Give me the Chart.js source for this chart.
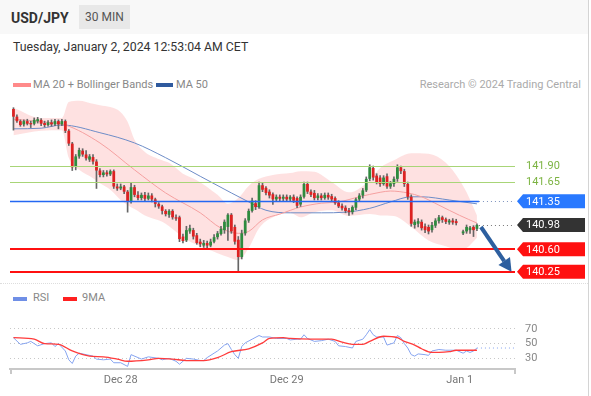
<!DOCTYPE html>
<html>
<head>
<meta charset="utf-8">
<script src="https://cdn.jsdelivr.net/npm/chart.js@4.4.1/dist/chart.umd.min.js"></script>
<style>
  html, body { margin: 0; padding: 0; background: #fff; }
  body { width: 591px; height: 396px; position: relative; overflow: hidden; font-family: Roboto, "Liberation Sans", Arial, sans-serif; }
  .abs { position: absolute; white-space: nowrap; }
  #head { left: 0; top: 0; width: 588px; height: 34px; background: #f8f8f8; }
  #pair { left: 11px; top: 8px; font-size: 14px; font-weight: bold; color: #333; line-height: 20px; }
  #tf { left: 79px; top: 5px; width: 51px; height: 24px; line-height: 24px; text-align: center; background: #e8e8e8; color: #555; font-size: 12px; }
  #date { left: 13px; top: 39px; font-size: 12.3px; color: #333; line-height: 16px; }
  .sw { position: absolute; height: 4px; }
  .lg { font-size: 11px; color: #888; line-height: 14px; }
  #sep { left: 0; top: 283px; width: 588px; border-top: 1px dotted #ddd; }
  #edge { left: 588px; top: 0; width: 1px; height: 396px; background: #d4d4d4; }
  canvas { position: absolute; left: 0; }
</style>
</head>
<body>
<div id="head" class="abs"></div>
<div id="pair" class="abs">USD/JPY</div>
<div id="tf" class="abs">30 MIN</div>
<div id="date" class="abs">Tuesday, January 2, 2024 12:53:04 AM CET</div>

<div class="sw" style="left:13px;top:83px;width:18px;background:#ff8a8a"></div>
<div class="abs lg" style="left:33px;top:78px">MA 20 + Bollinger Bands</div>
<div class="sw" style="left:156px;top:83px;width:17px;background:#2f5a9e"></div>
<div class="abs lg" style="left:176px;top:78px">MA 50</div>
<div class="abs lg" style="right:10px;top:78px;color:#aaa">Research © 2024 Trading Central</div>

<div id="sep" class="abs"></div>
<div class="sw" style="left:13px;top:297px;width:14px;background:#6f8fe6"></div>
<div class="abs lg" style="left:33px;top:291px">RSI</div>
<div class="sw" style="left:63px;top:297px;width:14px;background:#ff2020"></div>
<div class="abs lg" style="left:82px;top:291px">9MA</div>
<div id="edge" class="abs"></div>

<canvas id="main" width="591" height="195" style="top:95px"></canvas>
<canvas id="rsi" width="591" height="96" style="top:300px"></canvas>

<script>
// 30-min candles, index 0 = first candle shown (129 = missing bar)
const opens = [
  142.79,142.67,142.60,142.55,142.60,142.57,142.56,142.60,142.62,142.57,
  142.54,142.58,142.55,142.60,142.55,142.60,142.45,142.25,141.90,142.05,
  142.14,142.08,142.00,142.04,141.97,141.83,141.76,141.80,141.77,141.82,
  141.58,141.55,141.58,141.50,141.35,141.57,141.45,141.40,141.45,141.39,
  141.44,141.38,141.31,141.27,141.20,141.14,141.20,141.10,141.10,140.80,
  140.74,140.88,140.90,140.82,140.72,140.66,140.70,140.66,140.72,140.79,
  140.84,140.90,140.95,141.14,140.95,140.75,140.48,140.85,141.05,141.20,
  141.32,141.26,141.60,141.56,141.50,141.46,141.38,141.42,141.39,141.42,
  141.38,141.42,141.40,141.30,141.42,141.62,141.50,141.48,141.40,141.44,
  141.40,141.45,141.43,141.40,141.33,141.28,141.25,141.21,141.18,141.25,
  141.38,141.44,141.52,141.70,141.87,141.75,141.72,141.62,141.74,141.58,
  141.62,141.70,141.88,141.82,141.62,141.42,140.98,141.00,141.03,140.96,
  140.95,140.90,140.97,141.04,141.10,141.07,141.02,141.05,141.04,null,
  140.85,140.88,140.90,140.95,140.92
];
const highs = [
  142.81,142.70,142.62,142.62,142.63,142.60,142.65,142.66,142.64,142.60,
  142.61,142.62,142.63,142.62,142.63,142.62,142.47,142.27,142.08,142.18,
  142.17,142.14,142.08,142.08,142.00,141.86,141.83,141.83,141.84,141.84,
  141.62,141.62,141.60,141.52,141.63,141.60,141.50,141.48,141.49,141.48,
  141.47,141.40,141.33,141.29,141.22,141.22,141.22,141.14,141.12,140.84,
  140.96,140.98,140.93,140.85,140.76,140.74,140.73,140.76,140.83,140.88,
  140.96,141.06,141.16,141.16,140.98,140.80,140.90,141.08,141.23,141.40,
  141.36,141.65,141.64,141.58,141.53,141.48,141.45,141.45,141.45,141.45,
  141.44,141.45,141.42,141.45,141.65,141.65,141.53,141.52,141.47,141.47,
  141.48,141.48,141.46,141.42,141.36,141.31,141.28,141.24,141.28,141.40,
  141.47,141.55,141.73,141.92,141.90,141.78,141.75,141.75,141.78,141.66,
  141.73,141.92,141.90,141.85,141.65,141.45,141.06,141.08,141.06,141.00,
  140.98,141.02,141.08,141.13,141.12,141.09,141.07,141.08,141.07,null,
  140.90,140.98,140.96,140.97,141.00
];
const lows = [
  142.46,142.58,142.52,142.52,142.54,142.50,142.54,142.57,142.53,142.51,
  142.52,142.52,142.53,142.48,142.53,142.42,142.22,141.83,141.84,142.02,
  142.05,141.99,141.97,141.93,141.55,141.73,141.73,141.74,141.75,141.55,
  141.52,141.53,141.47,141.18,141.32,141.42,141.37,141.37,141.36,141.37,
  141.34,141.26,141.24,141.15,141.12,141.10,141.07,141.05,140.72,140.70,
  140.72,140.85,140.76,140.68,140.64,140.63,140.62,140.64,140.70,140.76,
  140.82,140.85,140.74,140.85,140.68,140.26,140.45,140.82,141.02,141.18,
  141.22,141.24,141.50,141.45,141.40,141.30,141.35,141.36,141.36,141.35,
  141.35,141.33,141.25,141.27,141.40,141.47,141.42,141.37,141.37,141.37,
  141.38,141.38,141.35,141.30,141.25,141.21,141.17,141.13,141.15,141.22,
  141.35,141.40,141.50,141.67,141.68,141.62,141.58,141.60,141.55,141.55,
  141.58,141.66,141.78,141.58,141.38,140.96,140.93,140.95,140.90,140.86,
  140.84,140.87,140.94,141.01,141.02,141.00,140.99,140.99,140.98,null,
  140.83,140.85,140.85,140.80,140.89
];
const closes = [
  142.67,142.60,142.54,142.60,142.56,142.55,142.62,142.63,142.56,142.54,
  142.58,142.55,142.60,142.55,142.60,142.45,142.25,141.88,142.05,142.15,
  142.08,142.02,142.05,141.97,141.83,141.76,141.80,141.77,141.82,141.58,
  141.55,141.58,141.50,141.35,141.57,141.45,141.40,141.45,141.39,141.44,
  141.38,141.31,141.27,141.20,141.15,141.20,141.10,141.08,140.76,140.73,
  140.90,140.93,140.80,140.70,140.68,140.70,140.66,140.72,140.79,140.85,
  140.92,141.03,141.14,140.88,140.72,140.48,140.85,141.05,141.20,141.36,
  141.26,141.60,141.53,141.48,141.44,141.38,141.42,141.39,141.42,141.38,
  141.42,141.36,141.28,141.42,141.62,141.50,141.45,141.40,141.44,141.40,
  141.45,141.41,141.38,141.32,141.27,141.24,141.20,141.18,141.26,141.38,
  141.44,141.52,141.70,141.88,141.72,141.65,141.62,141.72,141.58,141.63,
  141.70,141.88,141.82,141.62,141.42,141.00,141.03,141.04,140.93,140.90,
  140.88,140.98,141.05,141.10,141.06,141.03,141.05,141.02,141.01,null,
  140.88,140.95,140.94,140.90,140.98
];

// moving averages / bands, read at candle indices
const ma20Idx = [0, 8, 15, 25, 35, 44, 54, 60, 65, 68, 72, 77, 83, 89, 94, 100, 106, 109, 114, 118, 123, 129, 134];
const ma20Val = [142.63, 142.59, 142.54, 142.26, 141.84, 141.48, 141.17, 140.93, 140.85, 140.88, 141.06, 141.15, 141.26, 141.32, 141.34, 141.42, 141.49, 141.51, 141.48, 141.42, 141.29, 141.13, 141.01];
const ma50Idx = [0, 8, 14, 25, 35, 44, 54, 63, 68, 73, 80, 89, 96, 103, 109, 115, 118, 126, 134];
const ma50Val = [142.48, 142.49, 142.54, 142.42, 142.26, 142.03, 141.74, 141.48, 141.34, 141.21, 141.17, 141.17, 141.18, 141.24, 141.34, 141.42, 141.42, 141.37, 141.31];
const bandIdx = [0, 8, 14, 16, 19, 23, 25, 28, 31, 33, 35, 38, 43, 45, 49, 53, 59, 62, 65, 68, 71, 75, 80, 83, 87, 92, 97, 103, 106, 110, 115, 120, 125, 129, 131, 134];
const bandUpper = [142.81, 142.65, 142.65, 142.90, 142.92, 142.87, 142.85, 142.82, 142.74, 142.59, 142.31, 142.12, 141.99, 141.95, 141.78, 141.68, 141.45, 141.31, 141.40, 141.59, 141.70, 141.76, 141.79, 141.82, 141.81, 141.65, 141.49, 141.68, 141.87, 141.99, 142.10, 142.09, 141.95, 141.68, 141.49, 141.13];
const bandLower = [142.38, 142.45, 142.46, 142.03, 141.84, 141.71, 141.63, 141.53, 141.37, 141.29, 141.23, 141.13, 141.03, 140.96, 140.79, 140.67, 140.54, 140.48, 140.43, 140.62, 140.93, 141.10, 141.17, 141.10, 141.18, 141.21, 141.12, 141.15, 141.13, 141.12, 140.95, 140.74, 140.65, 140.59, 140.62, 140.78];

// key levels
const levelVals = [141.90, 141.65, 141.35, 140.98, 140.60, 140.25];
const levelKinds = ['res', 'res', 'pivot', 'last', 'sup', 'sup'];
const arrowTarget = 140.25;

// RSI panel
const rsiIdx = [0,2,4,5,7,9,11,12,13,15,16,17,18,19,21,23,24,26,28,29,31,33,34,36,37,39,42,43,45,47,48,50,52,54,55,56,58,59,61,62,63,64,65,66,67,69,71,72,74,76,79,80,82,83,84,85,87,89,91,93,94,96,98,99,101,102,103,104,105,107,108,110,111,112,113,114,115,116,117,119,120,121,123,125,127,128,130,131,132,133,134];
const rsiVal = [58,49,51,53,47,50,51,46,50,40,28,23,33,37,35,33,29,28,29,24,24,19,35,31,29,32,30,28,30,26,22,30,29,27,27,31,37,40,48,50,42,35,30,46,51,56,61,59,59,57,57,55,56,56,62,57,53,54,56,53,47,46,44,53,56,62,69,62,59,59,48,51,61,58,50,44,35,33,36,35,34,40,42,41,41,41,37,40,38,40,44];
const rsiMaIdx = [0,6,9,13,17,22,26,30,33,39,42,46,50,55,59,63,68,72,74,78,80,86,92,95,98,101,103,107,111,113,116,118,121,123,126,128,134];
const rsiMaVal = [58,56,50,49,40,33,32,29,26,28,30,29,27,27,31,39,43,51,57,58,57,56,56,52,49,49,53,60,58,53,48,43,38,38,39,41,41];
const rsiLevels = [30, 50, 70];

// date ticks (candle index of midnight)
const dateTickIdx = [31, 79, 129];
const dateTickLabels = ['Dec 28', 'Dec 29', 'Jan 1'];

const xMin = -1, xMax = 145;
const lastIdx = closes.length - 1;
const lastClose = closes[lastIdx];

Chart.defaults.font.family = 'Roboto, "Liberation Sans", Arial, sans-serif';

const pts = (idx, vals) => idx.map((x, k) => ({ x: x, y: vals[k] }));
const bodies = [], wicks = [];
opens.forEach((o, i) => {
  if (o === null) return;
  bodies.push({ x: i, y: [o, closes[i]], up: closes[i] >= o });
  wicks.push({ x: i, y: [lows[i], highs[i]] });
});

const levelPlugin = {
  id: 'levels',
  afterDatasetsDraw(chart) {
    const { ctx, chartArea: a, scales: { x, y } } = chart;
    const lastX = x.getPixelForValue(lastIdx) + 2;
    ctx.save();
    // level lines
    levelVals.forEach((v, k) => {
      const py = Math.round(y.getPixelForValue(v));
      const kind = levelKinds[k];
      ctx.setLineDash([]);
      if (kind === 'res') {
        ctx.strokeStyle = '#a8d577'; ctx.lineWidth = 1;
        ctx.beginPath(); ctx.moveTo(a.left, py + 0.5); ctx.lineTo(a.right, py + 0.5); ctx.stroke();
      } else if (kind === 'sup') {
        ctx.strokeStyle = '#ff1010'; ctx.lineWidth = 2;
        ctx.beginPath(); ctx.moveTo(a.left, py); ctx.lineTo(a.right, py); ctx.stroke();
      } else if (kind === 'pivot') {
        ctx.strokeStyle = '#2468f2'; ctx.lineWidth = 1.5;
        ctx.beginPath(); ctx.moveTo(a.left, py + 0.5); ctx.lineTo(lastX, py + 0.5); ctx.stroke();
        ctx.setLineDash([1, 3]); ctx.strokeStyle = '#7d92bd'; ctx.lineWidth = 1;
        ctx.beginPath(); ctx.moveTo(lastX, py + 0.5); ctx.lineTo(a.right, py + 0.5); ctx.stroke();
      } else {
        ctx.setLineDash([1, 3]); ctx.strokeStyle = '#777'; ctx.lineWidth = 1;
        ctx.beginPath(); ctx.moveTo(lastX, py + 0.5); ctx.lineTo(a.right, py + 0.5); ctx.stroke();
      }
    });
    ctx.setLineDash([]);

    // price tags
    ctx.font = '11px Roboto, "Liberation Sans", Arial, sans-serif';
    ctx.textBaseline = 'middle';
    const colors = { pivot: '#2979ff', last: '#333333', sup: '#ff1010' };
    levelVals.forEach((v, k) => {
      const cy = y.getPixelForValue(v);
      const kind = levelKinds[k];
      const txt = v.toFixed(2);
      if (kind === 'res') {
        ctx.fillStyle = '#7cb342';
        ctx.fillText(txt, a.right + 11, cy + 0.5);
        return;
      }
      const xl = a.right + 2, h = 14, tip = 6, w = 68;
      ctx.fillStyle = colors[kind];
      ctx.beginPath();
      ctx.moveTo(xl, cy);
      ctx.lineTo(xl + tip, cy - h / 2);
      ctx.lineTo(xl + w, cy - h / 2);
      ctx.lineTo(xl + w, cy + h / 2);
      ctx.lineTo(xl + tip, cy + h / 2);
      ctx.closePath();
      ctx.fill();
      ctx.fillStyle = '#fff';
      ctx.fillText(txt, xl + 9, cy + 0.5);
    });

    // forecast arrow from last close down to the target level
    const x0 = x.getPixelForValue(lastIdx) + 4, y0 = y.getPixelForValue(lastClose) + 2;
    const x1 = x.getPixelForValue(lastIdx + 10), y1 = y.getPixelForValue(arrowTarget);
    const ang = Math.atan2(y1 - y0, x1 - x0);
    const hl = 13, hw = 7;
    const bx = x1 - hl * Math.cos(ang), by = y1 - hl * Math.sin(ang);
    ctx.strokeStyle = ctx.fillStyle = '#2d5f9f';
    ctx.lineWidth = 4;
    ctx.beginPath(); ctx.moveTo(x0, y0); ctx.lineTo(bx, by); ctx.stroke();
    ctx.beginPath();
    ctx.moveTo(x1, y1);
    ctx.lineTo(bx + hw * Math.sin(ang), by - hw * Math.cos(ang));
    ctx.lineTo(bx - hw * Math.sin(ang), by + hw * Math.cos(ang));
    ctx.closePath();
    ctx.fill();
    ctx.restore();
  }
};

new Chart(document.getElementById('main'), {
  type: 'bar',
  data: {
    datasets: [
      { type: 'line', label: 'upper', data: pts(bandIdx, bandUpper), borderColor: 'rgba(0,0,0,0)', borderWidth: 0,
        pointRadius: 0, fill: '+1', backgroundColor: 'rgba(250,120,120,0.22)', cubicInterpolationMode: 'monotone', order: 10 },
      { type: 'line', label: 'lower', data: pts(bandIdx, bandLower), borderColor: 'rgba(0,0,0,0)', borderWidth: 0,
        pointRadius: 0, fill: false, cubicInterpolationMode: 'monotone', order: 10 },
      { type: 'line', label: 'MA 20', data: pts(ma20Idx, ma20Val), borderColor: '#f5a0a0', borderWidth: 1,
        pointRadius: 0, cubicInterpolationMode: 'monotone', order: 5 },
      { type: 'line', label: 'MA 50', data: pts(ma50Idx, ma50Val), borderColor: '#6d8cc7', borderWidth: 1,
        pointRadius: 0, cubicInterpolationMode: 'monotone', order: 5 },
      { type: 'bar', label: 'wick', data: wicks, backgroundColor: '#666', barThickness: 1, grouped: false, order: 2 },
      { type: 'bar', label: 'body', data: bodies, grouped: false, order: 1, minBarLength: 1,
        backgroundColor: ctx => (ctx.raw && ctx.raw.up ? '#2e8b3e' : '#dd2222'),
        barPercentage: 0.8, categoryPercentage: 1 }
    ]
  },
  options: {
    responsive: false,
    animation: false,
    events: [],
    layout: { padding: { left: 10, right: 76, top: 5, bottom: 15 } },
    plugins: { legend: { display: false }, tooltip: { enabled: false } },
    scales: {
      x: { type: 'linear', min: xMin, max: xMax, offset: false, display: false },
      y: { min: 140.2, max: 142.93, display: false }
    }
  },
  plugins: [levelPlugin]
});

const axisEnds = {
  id: 'axisEnds',
  afterDraw(chart) {
    const { ctx, chartArea: a } = chart;
    ctx.save();
    ctx.strokeStyle = '#c8c8c8';
    ctx.lineWidth = 2;
    [a.left + 1, a.right].forEach(px => {
      ctx.beginPath(); ctx.moveTo(px, a.bottom); ctx.lineTo(px, a.bottom + 5); ctx.stroke();
    });
    ctx.restore();
  }
};

new Chart(document.getElementById('rsi'), {
  type: 'line',
  data: {
    datasets: [
      { label: 'RSI', data: pts(rsiIdx, rsiVal), borderColor: '#86a4f0', borderWidth: 1, pointRadius: 0, order: 2 },
      { label: '9MA', data: pts(rsiMaIdx, rsiMaVal), borderColor: '#ff3b3b', borderWidth: 1.3, pointRadius: 0,
        cubicInterpolationMode: 'monotone', order: 1 },
      { label: 'last', data: [{ x: rsiIdx[rsiIdx.length - 1], y: rsiVal[rsiVal.length - 1] }, { x: xMax, y: rsiVal[rsiVal.length - 1] }],
        borderColor: '#86a4f0', borderWidth: 1, borderDash: [1, 3], pointRadius: 0, order: 3 }
    ]
  },
  options: {
    responsive: false,
    animation: false,
    events: [],
    layout: { padding: { left: 10, right: 0, top: 5, bottom: 0 } },
    plugins: { legend: { display: false }, tooltip: { enabled: false } },
    scales: {
      x: {
        type: 'linear', min: xMin, max: xMax, offset: false,
        afterFit: s => { s.height = 27; },
        afterBuildTicks: s => { s.ticks = dateTickIdx.map(v => ({ value: v })); },
        ticks: { callback: v => dateTickLabels[dateTickIdx.indexOf(v)], autoSkip: false, maxRotation: 0,
          color: '#777', font: { size: 11 }, padding: 5 },
        grid: { display: false, drawTicks: false },
        border: { display: true, color: '#c8c8c8', width: 2 }
      },
      y: {
        position: 'right', min: 15.5, max: 86.7,
        afterFit: s => { s.width = 76; },
        afterBuildTicks: s => { s.ticks = rsiLevels.map(v => ({ value: v })); },
        ticks: { color: '#888', font: { size: 11 }, padding: 10 },
        grid: { color: '#c8c8c8', drawTicks: false },
        border: { display: false, dash: [1, 3] }
      }
    }
  },
  plugins: [axisEnds]
});
</script>
</body>
</html>
